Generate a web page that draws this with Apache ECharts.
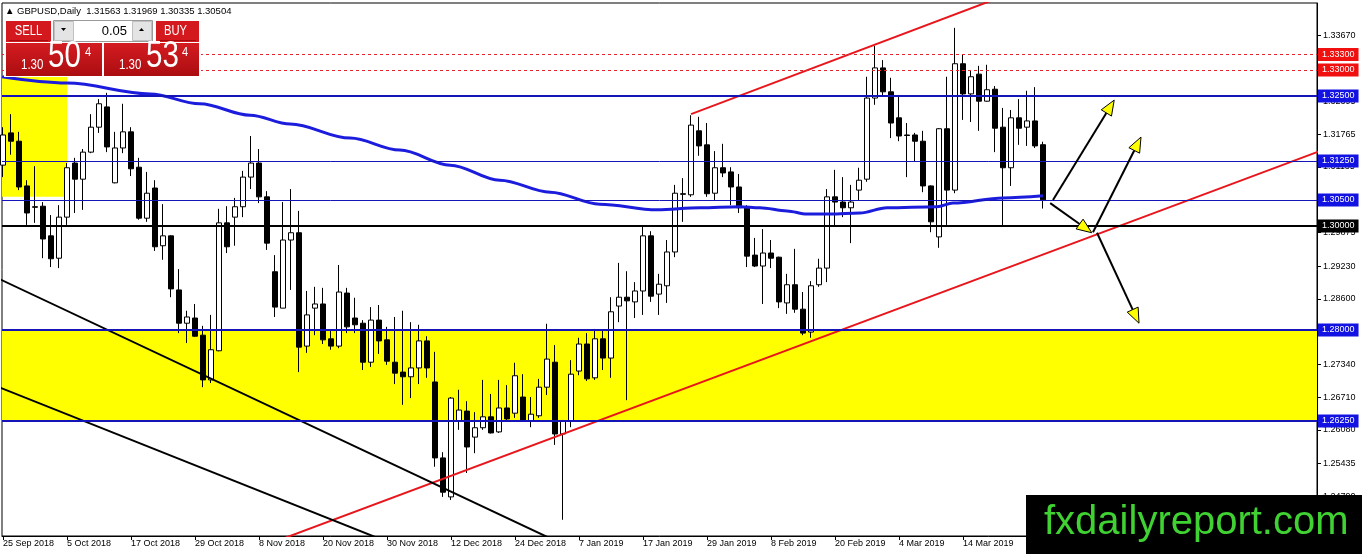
<!DOCTYPE html>
<html><head><meta charset="utf-8">
<script src="https://cdn.jsdelivr.net/npm/echarts@6/dist/echarts.min.js"></script>
<style>html,body{margin:0;padding:0;background:#fff}#c{width:1362px;height:554px}</style>
</head><body><div id="c"></div>
<script>
// ---- data (bar index 0 = 25 Sep 2018) ----
const opens=[1.3117,1.3179,1.3163,1.3077,1.3037,1.3038,1.2981,1.2938,1.3017,1.3121,
1.3090,1.3142,1.3190,1.3229,1.3083,1.3150,1.3181,1.3113,1.3015,1.3073,
1.2962,1.2981,1.2877,1.2813,1.2823,1.2790,1.2704,1.2760,1.3006,1.3017,
1.3037,1.3094,1.3121,1.3056,1.2912,1.2842,1.2973,1.2987,1.2769,1.2842,
1.2850,1.2783,1.2769,1.2871,1.2823,1.2813,1.2738,1.2819,1.2781,1.2738,
1.2719,1.2710,1.2727,1.2779,1.2700,1.2554,1.2479,1.2625,1.2644,1.2594,
1.2612,1.2633,1.2604,1.2650,1.2640,1.2671,1.2625,1.2635,1.2690,1.2738,
1.2600,1.2625,1.2721,1.2773,1.2708,1.2783,1.2746,1.2846,1.2863,1.2854,
1.2875,1.2981,1.2869,1.2885,1.2950,1.3062,1.3060,1.3183,1.3156,1.3063,
1.3112,1.3104,1.3075,1.3037,1.2944,1.2923,1.2948,1.2940,1.2852,1.2887,
1.2840,1.2796,1.2887,1.2919,1.3056,1.3046,1.3035,1.3069,1.3090,1.3246,
1.3304,1.3258,1.3208,1.3175,1.3175,1.3163,1.3077,1.2979,1.3187,1.3069,
1.3312,1.3254,1.3292,1.3240,1.3263,1.3190,1.3112,1.3208,1.3190,1.3202,
1.31563];
const highs=[1.3190,1.3215,1.3181,1.3088,1.3115,1.3046,1.3021,1.3040,1.3121,1.3131,
1.3148,1.3215,1.3244,1.3256,1.3181,1.3235,1.3190,1.3131,1.3104,1.3088,
1.3042,1.2982,1.2917,1.2837,1.2850,1.2808,1.2829,1.3033,1.3038,1.3054,
1.3106,1.3173,1.3148,1.3067,1.2944,1.3046,1.3071,1.3029,1.2875,1.2883,
1.2881,1.2800,1.2925,1.2881,1.2862,1.2819,1.2844,1.2848,1.2806,1.2825,
1.2837,1.2815,1.2810,1.2788,1.2758,1.2565,1.2671,1.2685,1.2663,1.2642,
1.2704,1.2677,1.2704,1.2694,1.2737,1.2715,1.2671,1.2706,1.2812,1.2771,
1.2627,1.2742,1.2785,1.2794,1.2802,1.2800,1.2863,1.2929,1.2913,1.2892,
1.3000,1.2990,1.2908,1.2973,1.3079,1.3092,1.3213,1.3210,1.3198,1.3144,
1.3158,1.3113,1.3100,1.3040,1.2977,1.2994,1.2973,1.2941,1.2908,1.2956,
1.2873,1.2894,1.2937,1.3071,1.3108,1.3094,1.3079,1.3112,1.3287,1.3346,
1.3319,1.3285,1.3252,1.3198,1.3179,1.3183,1.3078,1.3188,1.3287,1.3381,
1.3329,1.3298,1.3308,1.3310,1.3269,1.3227,1.3223,1.3244,1.3260,1.3267,
1.3162];
const lows=[1.3094,1.3137,1.3069,1.3002,1.3006,1.2938,1.2921,1.2919,1.3002,1.3025,
1.3031,1.3140,1.3179,1.3142,1.3082,1.3140,1.3096,1.3012,1.3008,1.2952,
1.2935,1.2863,1.2794,1.2775,1.2787,1.2690,1.2698,1.2759,1.2948,1.2962,
1.3017,1.3071,1.3044,1.2954,1.2825,1.2842,1.2877,1.2719,1.2756,1.2790,
1.2773,1.2762,1.2765,1.2794,1.2794,1.2723,1.2729,1.2754,1.2733,1.2696,
1.2656,1.2669,1.2696,1.2708,1.2537,1.2479,1.2473,1.2608,1.2525,1.2563,
1.2608,1.2601,1.2602,1.2623,1.2631,1.2623,1.2613,1.2631,1.2675,1.2579,
1.2435,1.2613,1.2713,1.2702,1.2704,1.2723,1.2708,1.2815,1.2665,1.2823,
1.2829,1.2854,1.2829,1.2852,1.2940,1.3008,1.3056,1.3135,1.3056,1.3050,
1.3094,1.3040,1.3025,1.2921,1.2921,1.2850,1.2919,1.2842,1.2831,1.2833,
1.2790,1.2785,1.2883,1.2892,1.2998,1.3017,1.2967,1.3050,1.3085,1.3233,
1.3248,1.3169,1.3163,1.3094,1.3123,1.3065,1.2988,1.2958,1.3002,1.3063,
1.3204,1.3200,1.3183,1.3239,1.3142,1.3000,1.3077,1.3156,1.3154,1.3150,
1.30335];
const closes=[1.3175,1.3163,1.3075,1.3025,1.3036,1.2975,1.2937,1.3017,1.3112,1.3090,
1.3142,1.3190,1.3235,1.3152,1.3150,1.3181,1.3110,1.3015,1.3063,1.2960,
1.2981,1.2879,1.2813,1.2825,1.2788,1.2704,1.2762,1.3006,1.2960,1.3037,
1.3094,1.3121,1.3056,1.2967,1.2844,1.2973,1.2987,1.2767,1.2829,1.2850,
1.2781,1.2769,1.2873,1.2806,1.2810,1.2738,1.2819,1.2779,1.2740,1.2717,
1.2710,1.2727,1.2779,1.2727,1.2554,1.2488,1.2669,1.2646,1.2575,1.2612,
1.2633,1.2602,1.2650,1.2629,1.2712,1.2625,1.2638,1.2690,1.2744,1.2600,
1.2625,1.2715,1.2773,1.2706,1.2783,1.2746,1.2835,1.2863,1.2856,1.2875,
1.2981,1.2865,1.2888,1.2950,1.3063,1.3061,1.3194,1.3154,1.3062,1.3112,
1.3102,1.3075,1.3035,1.2942,1.2923,1.2948,1.2938,1.2854,1.2887,1.2840,
1.2794,1.2885,1.2919,1.3056,1.3046,1.3035,1.3046,1.3088,1.3246,1.3304,
1.3258,1.3198,1.3173,1.3174,1.3163,1.3077,1.3008,1.3187,1.3069,1.3312,
1.3254,1.3287,1.3240,1.3262,1.3188,1.3112,1.3208,1.3188,1.3202,1.3154,
1.30504];
// moving average, sampled points [bar index, price]
const maIdx=[-0.125,8,18.4,24.6,30.9,35.9,43.4,49.6,55.9,62.1,68.4,74.6,81.75,87.1,92.1,94.6,98,100.5,103.4,107.1,110.5,116.75,118.75,125,130];
const maVal=[1.3287,1.3275,1.3254,1.3235,1.3213,1.3196,1.3169,1.3146,1.3117,1.3088,1.3065,1.3042,1.3031,1.3035,1.3037,1.3035,1.3029,1.3023,1.3023,1.3025,1.3035,1.3037,1.3044,1.3054,1.3058];
// x axis labels (every 8th bar)
const tickIdx=[0,8,16,24,32,40,48,56,64,72,80,88,96,104,112,120];
const tickLabels=["25 Sep 2018","5 Oct 2018","17 Oct 2018","29 Oct 2018","8 Nov 2018","20 Nov 2018","30 Nov 2018","12 Dec 2018","24 Dec 2018","7 Jan 2019","17 Jan 2019","29 Jan 2019","8 Feb 2019","20 Feb 2019","4 Mar 2019","14 Mar 2019"];
// y axis tick labels
const priceTicks=[1.3367,1.3304,1.32395,1.31765,1.31135,1.30505,1.29875,1.2923,1.286,1.2797,1.2734,1.2671,1.2608,1.25435,1.2479];
// horizontal levels
const redLevels=[1.3330,1.3300];
const blueThick=[1.3250,1.2800,1.2625];
const blueThin=[1.3125,1.3050];
const blackLevel=[1.3000];
// zones
const zoneLeft=[[-0.125,1.3290],[8,1.3056]];
const zoneBand=[1.2800,1.2625];
// trend lines [index, price]
const redUpper=[[86,1.3215],[124,1.3436]];
const redLower=[[34,1.2393],[166,1.3152]];
const blackUpper=[[-1,1.2902],[69,1.2395]];
const blackLower=[[-1,1.2693],[47,1.2399]];
// arrows [fromIdx, fromPrice, toIdx, toPrice]
const arrows=[[131.25,1.3050,138.9,1.3242],[130.9,1.3044,136.1,1.2987],[136.25,1.2988,142.25,1.3171],[136.75,1.2987,142.0,1.2813]];

const FONT='"Liberation Sans","DejaVu Sans",Arial,sans-serif';
const candles=opens.map((o,i)=>[i,o,closes[i],lows[i],highs[i]]);
const BLUE='#1414b8', LBL_BLUE='#1212e2';

const levelLines=[];
redLevels.forEach(v=>levelLines.push({yAxis:v,lineStyle:{color:'#e3262b',width:1,type:[3,3]},label:{backgroundColor:'#f01010'}}));
blueThick.forEach(v=>levelLines.push({yAxis:v,lineStyle:{color:BLUE,width:2,type:'solid'},label:{backgroundColor:LBL_BLUE}}));
blueThin.forEach(v=>levelLines.push({yAxis:v,lineStyle:{color:BLUE,width:1,type:'solid'},label:{backgroundColor:LBL_BLUE}}));
blackLevel.forEach(v=>levelLines.push({yAxis:v,lineStyle:{color:'#000',width:2,type:'solid'},label:{backgroundColor:'#000'}}));

const chart=echarts.init(document.getElementById('c'),null,{renderer:'canvas'});
const red='#d3181e';
const grad=new echarts.graphic.LinearGradient(0,0,0,1,[{offset:0,color:'#d41c21'},{offset:1,color:'#ab0d11'}]);
function txt(x,y,t,size,opts){return Object.assign({type:'text',x:x,y:y,z:101,style:{text:t,fill:'#fff',font:size+'px '+FONT,align:'left',verticalAlign:'middle',textAlign:'left',textVerticalAlign:'middle'}},opts||{});}
const graphics=[
 {type:'text',x:5,y:11,z:100,style:{text:'\u25B2 GBPUSD,Daily  1.31563 1.31969 1.30335 1.30504',fill:'#000',font:'9.5px '+FONT,verticalAlign:'middle',textVerticalAlign:'middle'}},
 {type:'rect',z:99,shape:{x:4,y:19,width:197,height:58},style:{fill:'#fff'}},
 {type:'rect',z:100,shape:{x:6,y:21,width:45,height:21},style:{fill:red}},
 {type:'rect',z:100,shape:{x:53.5,y:20.5,width:99,height:21},style:{fill:'#fff',stroke:'#9a9a9a',lineWidth:1}},
 {type:'rect',z:100,shape:{x:54.5,y:21.5,width:19,height:19},style:{fill:'#e4e4e4',stroke:'#c0c0c0',lineWidth:1}},
 {type:'rect',z:100,shape:{x:132.5,y:21.5,width:19,height:19},style:{fill:'#e4e4e4',stroke:'#c0c0c0',lineWidth:1}},
 {type:'polygon',z:101,shape:{points:[[61,28],[66,28],[63.5,31]]},style:{fill:'#000'}},
 {type:'polygon',z:101,shape:{points:[[139,31],[144,31],[141.5,28]]},style:{fill:'#000'}},
 {type:'text',x:127,y:31,z:101,style:{text:'0.05',fill:'#000',font:'13px '+FONT,align:'right',textAlign:'right',verticalAlign:'middle',textVerticalAlign:'middle'}},
 {type:'rect',z:100,shape:{x:156,y:21,width:43,height:21},style:{fill:red}},
 {type:'line',z:101,shape:{x1:9,y1:40.5,x2:48,y2:40.5},style:{stroke:'#a30b0f',lineWidth:1}},
 {type:'line',z:101,shape:{x1:159,y1:40.5,x2:196,y2:40.5},style:{stroke:'#a30b0f',lineWidth:1}},
 {type:'text',x:28.5,y:31,z:101,scaleX:0.8,style:{text:'SELL',fill:'#fff',font:'14px '+FONT,align:'center',textAlign:'center',verticalAlign:'middle',textVerticalAlign:'middle'}},
 {type:'text',x:175.5,y:31,z:101,scaleX:0.8,style:{text:'BUY',fill:'#fff',font:'14px '+FONT,align:'center',textAlign:'center',verticalAlign:'middle',textVerticalAlign:'middle'}},
 {type:'rect',z:100,shape:{x:6,y:43,width:96,height:33},style:{fill:grad}},
 {type:'rect',z:100,shape:{x:104,y:43,width:95,height:33},style:{fill:grad}},
 txt(21,65.5,'1.30',14,{scaleX:0.82}),
 txt(48,57,'50',36,{scaleX:0.82}),
 txt(85,52,'4',13,{scaleX:0.85}),
 txt(119,65.5,'1.30',14,{scaleX:0.82}),
 txt(146,57,'53',36,{scaleX:0.82}),
 txt(182,52,'4',13,{scaleX:0.85}),
 {type:'rect',z:100,shape:{x:1026,y:495,width:336,height:59},style:{fill:'#000'}},
 {type:'text',x:1044,y:523,z:101,style:{text:'fxdailyreport.com',fill:'#3fd232',font:'40px '+FONT,verticalAlign:'middle',textVerticalAlign:'middle'}}
];

const option={
 animation:false,
 backgroundColor:'#fff',
 grid:{left:2,right:45,top:3,bottom:18,show:true,borderColor:'#000',borderWidth:1,backgroundColor:'transparent'},
 xAxis:{type:'value',min:-0.125,max:164.25,
   axisLine:{show:true,onZero:false,lineStyle:{color:'#000',width:1}},
   axisTick:{show:true,length:4,customValues:tickIdx,lineStyle:{color:'#000'}},
   axisLabel:{show:true,customValues:tickIdx,align:'left',margin:3,color:'#000',fontSize:9,fontFamily:FONT,
     formatter:v=>{const k=tickIdx.indexOf(Math.round(v));return k>=0?tickLabels[k]:'';}},
   splitLine:{show:false}},
 yAxis:{type:'value',position:'right',min:1.24038,max:1.34288,scale:true,
   axisLine:{show:true,onZero:false,lineStyle:{color:'#000',width:1}},
   axisTick:{show:true,length:4,customValues:priceTicks,lineStyle:{color:'#000'}},
   axisLabel:{show:true,customValues:priceTicks,margin:6,color:'#000',fontSize:9,fontFamily:FONT,formatter:v=>v.toFixed(5)},
   splitLine:{show:false}},
 series:[
  {type:'candlestick',name:'GBPUSD',z:2,data:candles,barWidth:5,
   itemStyle:{color:'#fff',color0:'#000',borderColor:'#000',borderColor0:'#000',borderWidth:1}},
  {type:'line',name:'MA',z:3,data:maIdx.map((x,k)=>[x,maVal[k]]),showSymbol:false,symbol:'none',smooth:0.35,smoothMonotone:'x',
   lineStyle:{color:'#1c1cdc',width:3},
   markArea:{silent:true,z:1,itemStyle:{color:'#ffff00',opacity:1},
     data:[[{coord:zoneLeft[0]},{coord:zoneLeft[1]}],[{yAxis:zoneBand[0]},{yAxis:zoneBand[1]}]]},
   markLine:{silent:true,symbol:'none',z:5,precision:5,
     label:{show:true,position:'end',distance:1,color:'#fff',fontSize:9,fontFamily:FONT,padding:[2,4,1,4],lineHeight:10,
       formatter:p=>Number(p.value).toFixed(5)},
     data:levelLines}},
  {type:'line',z:4,data:redUpper,symbol:'none',lineStyle:{color:'#e8161c',width:2},clip:true},
  {type:'line',z:4,data:redLower,symbol:'none',lineStyle:{color:'#e8161c',width:2},clip:true},
  {type:'line',z:4,data:blackUpper,symbol:'none',lineStyle:{color:'#000',width:2},clip:true},
  {type:'line',z:4,data:blackLower,symbol:'none',lineStyle:{color:'#000',width:2},clip:true},
  {type:'custom',z:6,data:arrows,encode:{x:[0,2],y:[1,3]},
   renderItem:(params,api)=>{
     const p1=api.coord([api.value(0),api.value(1)]);
     const p2=api.coord([api.value(2),api.value(3)]);
     const a=Math.atan2(p2[1]-p1[1],p2[0]-p1[0]);
     const L=15,W=6;
     const bx=p2[0]-L*Math.cos(a), by=p2[1]-L*Math.sin(a);
     const nx=-Math.sin(a)*W, ny=Math.cos(a)*W;
     return {type:'group',children:[
       {type:'line',shape:{x1:p1[0],y1:p1[1],x2:bx,y2:by},style:{stroke:'#000',lineWidth:2}},
       {type:'polygon',shape:{points:[[p2[0],p2[1]],[bx+nx,by+ny],[bx-nx,by-ny]]},style:{fill:'#ffff00',stroke:'#000',lineWidth:1}}
     ]};
   }}
 ],
 graphic:graphics
};
chart.setOption(option);
</script></body></html>
